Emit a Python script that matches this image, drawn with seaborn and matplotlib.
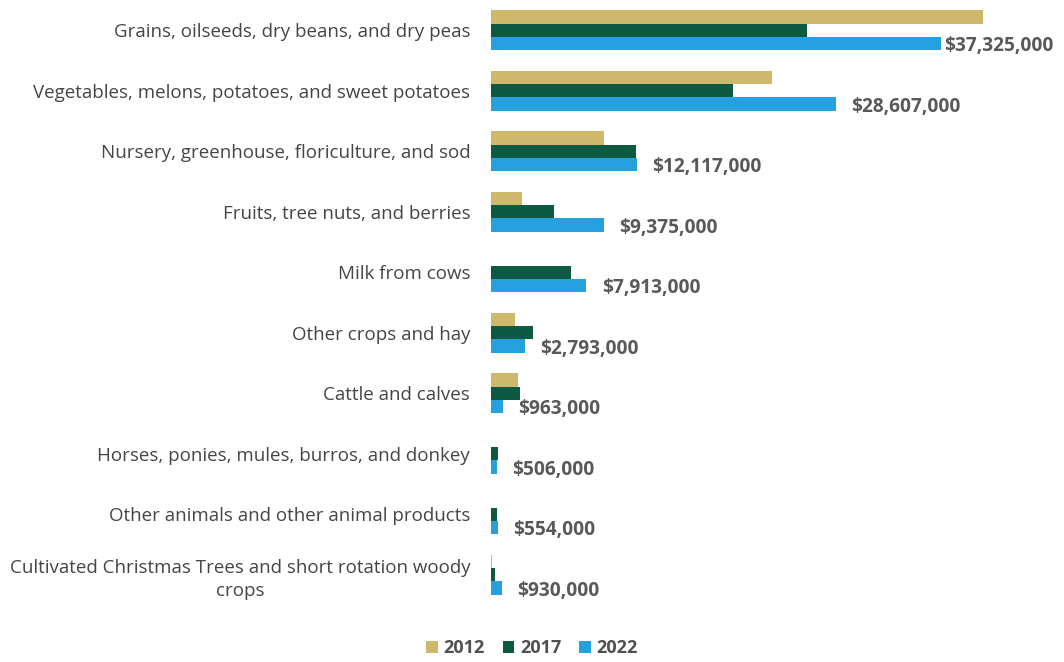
import numpy as np
import pandas as pd
import matplotlib
matplotlib.use("Agg")
import matplotlib.pyplot as plt
import seaborn as sns

categories = [
    "Grains, oilseeds, dry beans, and dry peas",
    "Vegetables, melons, potatoes, and sweet potatoes",
    "Nursery, greenhouse, floriculture, and sod",
    "Fruits, tree nuts, and berries",
    "Milk from cows",
    "Other crops and hay",
    "Cattle and calves",
    "Horses, ponies, mules, burros, and donkey",
    "Other animals and other animal products",
    "Cultivated Christmas Trees and short rotation woody\ncrops",
]
years = ["2012", "2017", "2022"]
sales_2012 = [40_800_000, 23_300_000, 9_400_000, 2_600_000, 0, 2_000_000, 2_200_000, 0, 0, 100_000]
sales_2017 = [26_200_000, 20_100_000, 12_000_000, 5_200_000, 6_600_000, 3_500_000, 2_400_000, 600_000, 500_000, 300_000]
sales_2022 = [37_325_000, 28_607_000, 12_117_000, 9_375_000, 7_913_000, 2_793_000, 963_000, 506_000, 554_000, 930_000]
colors = ["#CDB86C", "#0D5A43", "#27A0E0"]

df = pd.DataFrame({
    "category": categories * 3,
    "year": [y for y in years for _ in categories],
    "sales": sales_2012 + sales_2017 + sales_2022,
})

sns.set_theme(style="white")
plt.rcParams["font.family"] = ["Open Sans", "DejaVu Sans"]
text_color = "#454545"

fig = plt.figure(figsize=(10.64, 6.62), dpi=100)
ax = fig.add_axes([491 / 1064, 1 - 605 / 662, 509 / 1064, 605 / 662])

sns.barplot(data=df, y="category", x="sales", hue="year", orient="h",
            palette=colors, width=0.66, saturation=1, linewidth=0,
            ax=ax, legend=True)

ax.set_xlim(0, 509 / 450 * 37_325_000)
ax.set_ylim(len(categories) - 0.5, -0.5)
ax.set_xlabel("")
ax.set_ylabel("")
ax.set_xticks([])
for s in ax.spines.values():
    s.set_visible(False)
ax.tick_params(axis="y", length=0, pad=15, labelsize=13.5, labelcolor=text_color)
for lbl in ax.get_yticklabels():
    lbl.set_multialignment("center")
    lbl.set_linespacing(1.35)

# value labels on the 2022 bars
labels_2022 = [f"${v:,.0f}" for v in sales_2022]
bars_2022 = ax.containers[2]
fig.canvas.draw()
renderer = fig.canvas.get_renderer()
for bar, txt in zip(bars_2022, labels_2022):
    yc = bar.get_y() + bar.get_height() / 2
    t = ax.annotate(txt, xy=(bar.get_width(), yc), xytext=(11, -2),
                    textcoords="offset points", va="center", ha="left",
                    fontsize=13.8, fontweight="bold", color="#595959",
                    annotation_clip=False)
    ext = t.get_window_extent(renderer)
    if ext.x1 > fig.bbox.width - 8:
        t.xyann = (2, -2)

leg = ax.legend(loc="center", bbox_to_anchor=(532 / 1064, 1 - 648 / 662),
                bbox_transform=fig.transFigure, ncol=3, frameon=False,
                handlelength=0.65, handleheight=0.65, handletextpad=0.3,
                columnspacing=1.0, prop={"size": 13, "weight": "bold"})
for t in leg.get_texts():
    t.set_color("#505050")

fig.savefig("out.png", dpi=100)
